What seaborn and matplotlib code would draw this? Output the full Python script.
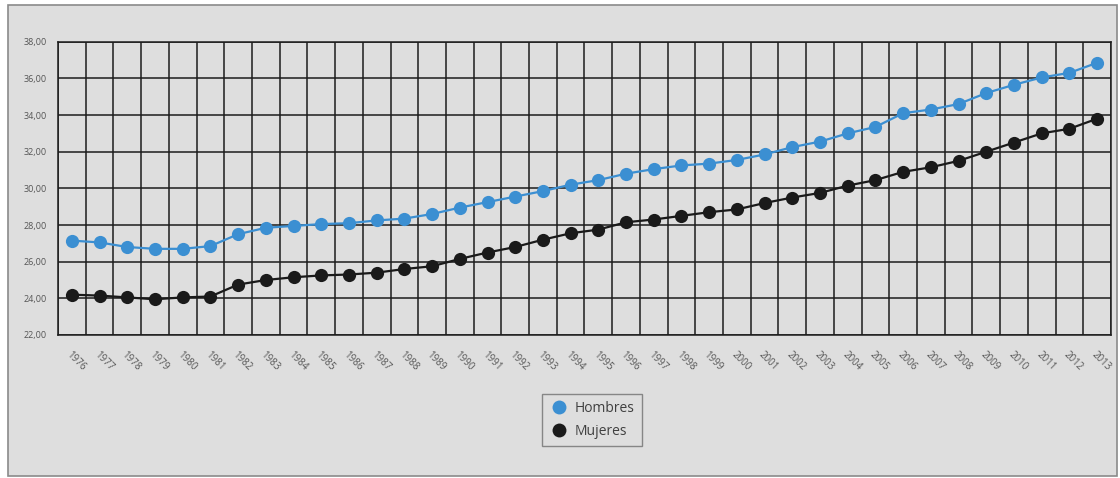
import numpy as np
import pandas as pd
import matplotlib
matplotlib.use("Agg")
import matplotlib.pyplot as plt
from matplotlib.lines import Line2D
from matplotlib.patches import Rectangle
import seaborn as sns

# -------------------------------
# Data
# -------------------------------
years = list(range(1976, 2014))

hombres = [27.15, 27.05, 26.8, 26.7, 26.7, 26.85, 27.5, 27.85, 27.95, 28.05,
           28.1, 28.25, 28.35, 28.6, 28.95, 29.25, 29.55, 29.85, 30.2, 30.45,
           30.8, 31.05, 31.25, 31.35, 31.55, 31.85, 32.25, 32.55, 33.0, 33.35,
           34.1, 34.3, 34.6, 35.2, 35.65, 36.05, 36.3, 36.85]

mujeres = [24.2, 24.15, 24.05, 23.95, 24.05, 24.1, 24.75, 25.0, 25.15, 25.25,
           25.3, 25.4, 25.6, 25.75, 26.15, 26.5, 26.8, 27.2, 27.55, 27.75,
           28.15, 28.3, 28.5, 28.7, 28.85, 29.2, 29.5, 29.75, 30.15, 30.45,
           30.9, 31.15, 31.5, 32.0, 32.5, 33.0, 33.25, 33.8]

series_names = ["Hombres", "Mujeres"]
colors = {"Hombres": "#3b8fd2", "Mujeres": "#1a1a1a"}

df = pd.DataFrame({
    "year": years * 2,
    "value": hombres + mujeres,
    "serie": ["Hombres"] * len(years) + ["Mujeres"] * len(years),
})

# -------------------------------
# Style
# -------------------------------
sns.set_style("white")
plt.rcParams["font.family"] = ["Open Sans", "DejaVu Sans"]
bg = "#dedede"

fig = plt.figure(figsize=(11.2, 4.78), dpi=100, facecolor="white")
fig.patches.append(Rectangle((8 / 1120, 2 / 478), 1109 / 1120, 471 / 478,
                             transform=fig.transFigure, facecolor=bg,
                             edgecolor="#8a8a8a", linewidth=1.2, zorder=-1))

ax = fig.add_axes([58 / 1120, 1 - 335 / 478, 1053 / 1120, 293.3 / 478])
ax.set_facecolor(bg)

sns.lineplot(data=df, x="year", y="value", hue="serie", palette=colors,
             marker="o", markersize=9.5, markeredgewidth=0, linewidth=1.6,
             legend=False, ax=ax, zorder=3)

ax.set_xlim(years[0] - 0.5, years[-1] + 0.5)
ax.set_ylim(22, 38)
ax.set_yticks(np.arange(22, 39, 2))
ax.set_yticklabels([f"{v:.2f}".replace(".", ",") for v in np.arange(22, 39, 2)])

# category boundaries as minor ticks -> vertical grid
ax.set_xticks(years)
ax.set_xticklabels([str(y) for y in years])
ax.set_xticks(np.arange(years[0] - 0.5, years[-1] + 1, 1.0), minor=True)

ax.grid(True, which="major", axis="y", color="#1c1c1c", linewidth=1.1)
ax.grid(True, which="minor", axis="x", color="#1c1c1c", linewidth=1.1)
ax.grid(False, which="major", axis="x")

ax.tick_params(axis="y", which="major", length=6, width=1.1, color="#303030",
               labelsize=6.5, labelcolor="#555555", pad=2)
ax.tick_params(axis="x", which="minor", length=8, width=1.1, color="#303030",
               direction="out")
ax.tick_params(axis="x", which="major", length=0, labelsize=7,
               labelcolor="#555555", pad=10)
for lab in ax.get_xticklabels():
    lab.set_rotation(-45)
    lab.set_ha("left")
    lab.set_va("top")
    lab.set_rotation_mode("anchor")

for s in ax.spines.values():
    s.set_color("#1c1c1c")
    s.set_linewidth(1.1)

ax.set_xlabel("")
ax.set_ylabel("")

# -------------------------------
# Legend (markers only)
# -------------------------------
handles = [Line2D([], [], linestyle="none", marker="o", markersize=10,
                  markeredgewidth=0, color=colors[n]) for n in series_names]
leg = fig.legend(handles, series_names, loc="center",
                 bbox_to_anchor=(592 / 1120, 1 - 420 / 478),
                 fontsize=10, frameon=True, fancybox=False,
                 handletextpad=0.45, borderpad=0.55, labelspacing=0.55,
                 handlelength=1.3, borderaxespad=0)
leg.get_frame().set_facecolor(bg)
leg.get_frame().set_edgecolor("#707070")
leg.get_frame().set_linewidth(1.0)
for t in leg.get_texts():
    t.set_color("#404040")

fig.savefig("out.png", dpi=100, facecolor="white")
